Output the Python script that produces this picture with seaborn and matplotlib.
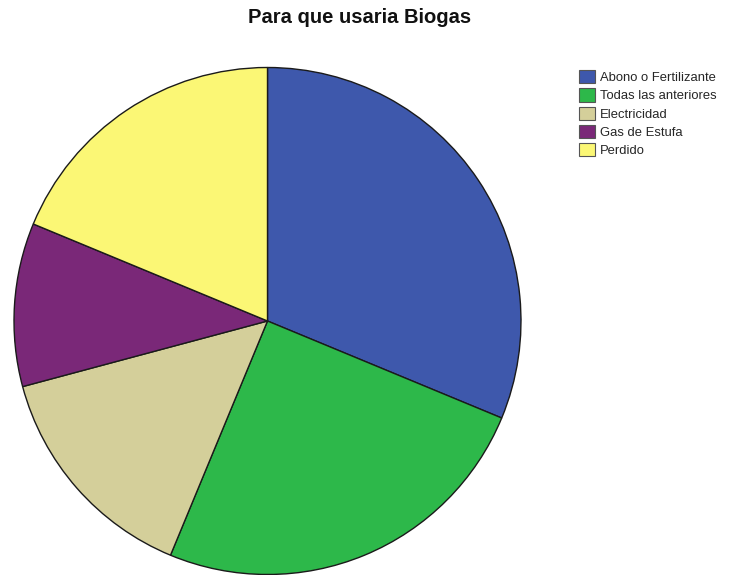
import matplotlib
matplotlib.use("Agg")
import matplotlib.pyplot as plt
from matplotlib.patches import Patch
import seaborn as sns

categories = ["Abono o Fertilizante", "Todas las anteriores", "Electricidad",
              "Gas de Estufa", "Perdido"]
counts = [15, 12, 7, 5, 9]
colors = ["#3e58ac", "#2db84a", "#d4cf9a", "#7a2878", "#fbf775"]
title = "Para que usaria Biogas"

sns.set_theme(style="white")
plt.rcParams["font.family"] = ["Liberation Sans", "DejaVu Sans"]

W, H = 729, 575
fig = plt.figure(figsize=(W / 100, H / 100), dpi=100)
ax = fig.add_axes([0, 0, 1, 1])

# pie centre and radius in pixels
cx, cy, r = 267.5, 321.0, 253.5
ax.pie(counts, colors=colors, startangle=90, counterclock=False,
       radius=1.0, center=(0, 0),
       wedgeprops=dict(edgecolor="#1a1a1a", linewidth=1.0))
ax.set_xlim(-cx / r, (W - cx) / r)
ax.set_ylim((cy - H) / r, cy / r)
ax.set_aspect("auto")
ax.axis("off")

fig.text(359.5 / W, 1 - 23 / H, title, ha="center", va="baseline",
         fontsize=14.5, fontweight="bold", color="#111111")

handles = [Patch(facecolor=c, edgecolor="#555555", linewidth=0.8) for c in colors]
fig.legend(handles, categories, loc="upper left",
           bbox_to_anchor=(579 / W, 1 - 70 / H), frameon=False,
           fontsize=9.4, handlelength=1.25, handleheight=1.2,
           handletextpad=0.38, labelspacing=0.32, borderpad=0, borderaxespad=0)

fig.savefig("out.png", dpi=100, facecolor="white")
